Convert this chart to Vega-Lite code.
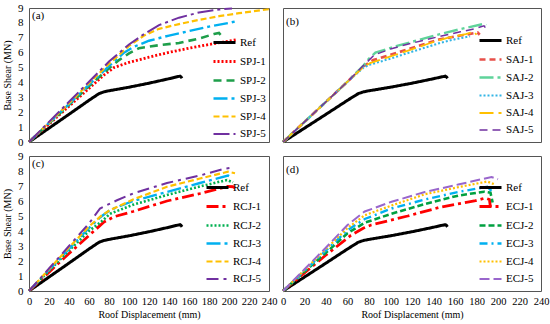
{
  "$schema": "https://vega.github.io/schema/vega-lite/v6.json",
  "background": "white",
  "padding": {"left": 2, "top": 1, "right": 2, "bottom": 2},
  "bounds": "flush",
  "columns": 2,
  "spacing": {"row": 14, "column": 14},
  "resolve": {"scale": {"color": "independent", "strokeDash": "independent", "strokeWidth": "independent", "x": "independent", "y": "independent"}, "legend": {"color": "independent", "strokeDash": "independent", "strokeWidth": "independent"}},
  "config": {
    "view": {"stroke": "#555555", "strokeWidth": 1},
    "axis": {"labelFont": "Liberation Serif", "labelFontSize": 11, "labelColor": "#000", "titleFont": "Liberation Serif", "titleFontSize": 10, "titleFontWeight": "normal", "titleColor": "#000", "ticks": false, "domain": false, "grid": false, "labelPadding": 6, "labelOverlap": false, "labelBound": false, "labelFlush": false},
    "axisX": {"labelFontSize": 10.5},
    "legend": {"orient": "bottom-right", "offset": 3, "symbolType": "stroke", "symbolSize": 484, "labelFont": "Liberation Serif", "labelFontSize": 11, "labelColor": "#000", "rowPadding": -10, "labelOffset": 3, "padding": 0},
    "title": {"font": "Liberation Serif", "fontSize": 11, "fontWeight": "normal", "anchor": "start", "frame": "group", "offset": -19, "dx": 3}
  },
  "datasets": {
    "d": [
      {"p":"r","s":"Ref","x":0,"y":0},{"p":"r","s":"Ref","x":20,"y":0.93},{"p":"r","s":"Ref","x":40,"y":1.86},{"p":"r","s":"Ref","x":60,"y":2.8},{"p":"r","s":"Ref","x":70,"y":3.25},{"p":"r","s":"Ref","x":75,"y":3.37},{"p":"r","s":"Ref","x":80,"y":3.44},{"p":"r","s":"Ref","x":100,"y":3.68},{"p":"r","s":"Ref","x":120,"y":3.95},{"p":"r","s":"Ref","x":140,"y":4.25},{"p":"r","s":"Ref","x":148,"y":4.38},{"p":"r","s":"Ref","x":151,"y":4.42},{"p":"r","s":"Ref","x":152,"y":4.38},{"p":"r","s":"Ref","x":153,"y":4.28},

      {"p":"a","s":"SPJ-1","x":0,"y":0},{"p":"a","s":"SPJ-1","x":20,"y":1.2},{"p":"a","s":"SPJ-1","x":40,"y":2.4},{"p":"a","s":"SPJ-1","x":60,"y":3.6},{"p":"a","s":"SPJ-1","x":75,"y":4.5},{"p":"a","s":"SPJ-1","x":85,"y":5.0},{"p":"a","s":"SPJ-1","x":100,"y":5.35},{"p":"a","s":"SPJ-1","x":120,"y":5.7},{"p":"a","s":"SPJ-1","x":140,"y":6.02},{"p":"a","s":"SPJ-1","x":160,"y":6.3},{"p":"a","s":"SPJ-1","x":180,"y":6.55},{"p":"a","s":"SPJ-1","x":200,"y":6.78},{"p":"a","s":"SPJ-1","x":208,"y":6.88},
      {"p":"a","s":"SPJ-2","x":0,"y":0},{"p":"a","s":"SPJ-2","x":20,"y":1.25},{"p":"a","s":"SPJ-2","x":40,"y":2.5},{"p":"a","s":"SPJ-2","x":60,"y":3.75},{"p":"a","s":"SPJ-2","x":80,"y":4.95},{"p":"a","s":"SPJ-2","x":90,"y":5.5},{"p":"a","s":"SPJ-2","x":100,"y":5.95},{"p":"a","s":"SPJ-2","x":110,"y":6.3},{"p":"a","s":"SPJ-2","x":130,"y":6.5},{"p":"a","s":"SPJ-2","x":150,"y":6.65},{"p":"a","s":"SPJ-2","x":170,"y":6.95},{"p":"a","s":"SPJ-2","x":185,"y":7.25},{"p":"a","s":"SPJ-2","x":190,"y":7.32},{"p":"a","s":"SPJ-2","x":193,"y":7.1},
      {"p":"a","s":"SPJ-3","x":0,"y":0},{"p":"a","s":"SPJ-3","x":20,"y":1.28},{"p":"a","s":"SPJ-3","x":40,"y":2.55},{"p":"a","s":"SPJ-3","x":60,"y":3.85},{"p":"a","s":"SPJ-3","x":80,"y":5.1},{"p":"a","s":"SPJ-3","x":95,"y":6.0},{"p":"a","s":"SPJ-3","x":105,"y":6.4},{"p":"a","s":"SPJ-3","x":120,"y":6.8},{"p":"a","s":"SPJ-3","x":140,"y":7.15},{"p":"a","s":"SPJ-3","x":160,"y":7.45},{"p":"a","s":"SPJ-3","x":180,"y":7.75},{"p":"a","s":"SPJ-3","x":200,"y":8.0},{"p":"a","s":"SPJ-3","x":208,"y":8.12},
      {"p":"a","s":"SPJ-4","x":0,"y":0},{"p":"a","s":"SPJ-4","x":20,"y":1.3},{"p":"a","s":"SPJ-4","x":40,"y":2.6},{"p":"a","s":"SPJ-4","x":60,"y":3.95},{"p":"a","s":"SPJ-4","x":80,"y":5.25},{"p":"a","s":"SPJ-4","x":100,"y":6.45},{"p":"a","s":"SPJ-4","x":115,"y":7.15},{"p":"a","s":"SPJ-4","x":130,"y":7.6},{"p":"a","s":"SPJ-4","x":150,"y":7.92},{"p":"a","s":"SPJ-4","x":170,"y":8.2},{"p":"a","s":"SPJ-4","x":190,"y":8.45},{"p":"a","s":"SPJ-4","x":210,"y":8.65},{"p":"a","s":"SPJ-4","x":240,"y":8.92},
      {"p":"a","s":"SPJ-5","x":0,"y":0},{"p":"a","s":"SPJ-5","x":20,"y":1.35},{"p":"a","s":"SPJ-5","x":40,"y":2.7},{"p":"a","s":"SPJ-5","x":60,"y":4.05},{"p":"a","s":"SPJ-5","x":80,"y":5.4},{"p":"a","s":"SPJ-5","x":100,"y":6.55},{"p":"a","s":"SPJ-5","x":115,"y":7.25},{"p":"a","s":"SPJ-5","x":130,"y":7.85},{"p":"a","s":"SPJ-5","x":150,"y":8.35},{"p":"a","s":"SPJ-5","x":170,"y":8.7},{"p":"a","s":"SPJ-5","x":190,"y":8.9},{"p":"a","s":"SPJ-5","x":203,"y":8.97},

      {"p":"b","s":"SAJ-1","x":0,"y":0},{"p":"b","s":"SAJ-1","x":20,"y":1.35},{"p":"b","s":"SAJ-1","x":40,"y":2.7},{"p":"b","s":"SAJ-1","x":60,"y":4.05},{"p":"b","s":"SAJ-1","x":75,"y":5.1},{"p":"b","s":"SAJ-1","x":84,"y":5.5},{"p":"b","s":"SAJ-1","x":100,"y":5.85},{"p":"b","s":"SAJ-1","x":115,"y":6.2},{"p":"b","s":"SAJ-1","x":146,"y":6.9},{"p":"b","s":"SAJ-1","x":165,"y":7.15},{"p":"b","s":"SAJ-1","x":181,"y":7.35},{"p":"b","s":"SAJ-1","x":183,"y":7.2},
      {"p":"b","s":"SAJ-2","x":0,"y":0},{"p":"b","s":"SAJ-2","x":20,"y":1.35},{"p":"b","s":"SAJ-2","x":40,"y":2.7},{"p":"b","s":"SAJ-2","x":60,"y":4.05},{"p":"b","s":"SAJ-2","x":75,"y":5.15},{"p":"b","s":"SAJ-2","x":80,"y":5.6},{"p":"b","s":"SAJ-2","x":86,"y":6.0},{"p":"b","s":"SAJ-2","x":106,"y":6.45},{"p":"b","s":"SAJ-2","x":126,"y":6.85},{"p":"b","s":"SAJ-2","x":146,"y":7.25},{"p":"b","s":"SAJ-2","x":166,"y":7.6},{"p":"b","s":"SAJ-2","x":186,"y":7.92},{"p":"b","s":"SAJ-2","x":189,"y":7.85},
      {"p":"b","s":"SAJ-3","x":0,"y":0},{"p":"b","s":"SAJ-3","x":20,"y":1.35},{"p":"b","s":"SAJ-3","x":40,"y":2.7},{"p":"b","s":"SAJ-3","x":60,"y":4.05},{"p":"b","s":"SAJ-3","x":75,"y":5.0},{"p":"b","s":"SAJ-3","x":81,"y":5.2},{"p":"b","s":"SAJ-3","x":100,"y":5.6},{"p":"b","s":"SAJ-3","x":115,"y":5.95},{"p":"b","s":"SAJ-3","x":146,"y":6.65},{"p":"b","s":"SAJ-3","x":160,"y":6.9},{"p":"b","s":"SAJ-3","x":174,"y":7.1},
      {"p":"b","s":"SAJ-4","x":0,"y":0},{"p":"b","s":"SAJ-4","x":20,"y":1.35},{"p":"b","s":"SAJ-4","x":40,"y":2.7},{"p":"b","s":"SAJ-4","x":60,"y":4.05},{"p":"b","s":"SAJ-4","x":75,"y":5.05},{"p":"b","s":"SAJ-4","x":81,"y":5.3},{"p":"b","s":"SAJ-4","x":100,"y":5.75},{"p":"b","s":"SAJ-4","x":115,"y":6.1},{"p":"b","s":"SAJ-4","x":135,"y":6.6},{"p":"b","s":"SAJ-4","x":153,"y":7.0},{"p":"b","s":"SAJ-4","x":170,"y":7.25},{"p":"b","s":"SAJ-4","x":178,"y":7.4},{"p":"b","s":"SAJ-4","x":180,"y":7.2},
      {"p":"b","s":"SAJ-5","x":0,"y":0},{"p":"b","s":"SAJ-5","x":20,"y":1.35},{"p":"b","s":"SAJ-5","x":40,"y":2.7},{"p":"b","s":"SAJ-5","x":60,"y":4.05},{"p":"b","s":"SAJ-5","x":75,"y":5.15},{"p":"b","s":"SAJ-5","x":85,"y":5.85},{"p":"b","s":"SAJ-5","x":100,"y":6.25},{"p":"b","s":"SAJ-5","x":115,"y":6.55},{"p":"b","s":"SAJ-5","x":146,"y":7.1},{"p":"b","s":"SAJ-5","x":165,"y":7.4},{"p":"b","s":"SAJ-5","x":178,"y":7.6},{"p":"b","s":"SAJ-5","x":187,"y":7.8},{"p":"b","s":"SAJ-5","x":189,"y":7.6},

      {"p":"c","s":"RCJ-1","x":0,"y":0},{"p":"c","s":"RCJ-1","x":20,"y":1.25},{"p":"c","s":"RCJ-1","x":40,"y":2.5},{"p":"c","s":"RCJ-1","x":55,"y":3.4},{"p":"c","s":"RCJ-1","x":65,"y":4.0},{"p":"c","s":"RCJ-1","x":75,"y":4.6},{"p":"c","s":"RCJ-1","x":85,"y":4.95},{"p":"c","s":"RCJ-1","x":104,"y":5.3},{"p":"c","s":"RCJ-1","x":138,"y":6.0},{"p":"c","s":"RCJ-1","x":171,"y":6.5},{"p":"c","s":"RCJ-1","x":198,"y":6.97},{"p":"c","s":"RCJ-1","x":204,"y":6.95},{"p":"c","s":"RCJ-1","x":206,"y":6.85},
      {"p":"c","s":"RCJ-2","x":0,"y":0},{"p":"c","s":"RCJ-2","x":20,"y":1.35},{"p":"c","s":"RCJ-2","x":40,"y":2.7},{"p":"c","s":"RCJ-2","x":60,"y":4.0},{"p":"c","s":"RCJ-2","x":72,"y":4.6},{"p":"c","s":"RCJ-2","x":81,"y":5.15},{"p":"c","s":"RCJ-2","x":104,"y":5.75},{"p":"c","s":"RCJ-2","x":138,"y":6.4},{"p":"c","s":"RCJ-2","x":171,"y":6.97},{"p":"c","s":"RCJ-2","x":198,"y":7.4},{"p":"c","s":"RCJ-2","x":204,"y":7.25},
      {"p":"c","s":"RCJ-3","x":0,"y":0},{"p":"c","s":"RCJ-3","x":20,"y":1.4},{"p":"c","s":"RCJ-3","x":40,"y":2.8},{"p":"c","s":"RCJ-3","x":60,"y":4.2},{"p":"c","s":"RCJ-3","x":71,"y":4.9},{"p":"c","s":"RCJ-3","x":81,"y":5.4},{"p":"c","s":"RCJ-3","x":104,"y":6.0},{"p":"c","s":"RCJ-3","x":138,"y":6.6},{"p":"c","s":"RCJ-3","x":171,"y":7.2},{"p":"c","s":"RCJ-3","x":199,"y":7.7},{"p":"c","s":"RCJ-3","x":203,"y":7.55},
      {"p":"c","s":"RCJ-4","x":0,"y":0},{"p":"c","s":"RCJ-4","x":20,"y":1.45},{"p":"c","s":"RCJ-4","x":40,"y":2.9},{"p":"c","s":"RCJ-4","x":60,"y":4.3},{"p":"c","s":"RCJ-4","x":72,"y":5.0},{"p":"c","s":"RCJ-4","x":80,"y":5.35},{"p":"c","s":"RCJ-4","x":104,"y":6.1},{"p":"c","s":"RCJ-4","x":138,"y":6.95},{"p":"c","s":"RCJ-4","x":171,"y":7.5},{"p":"c","s":"RCJ-4","x":199,"y":7.95},{"p":"c","s":"RCJ-4","x":206,"y":7.85},
      {"p":"c","s":"RCJ-5","x":0,"y":0},{"p":"c","s":"RCJ-5","x":20,"y":1.5},{"p":"c","s":"RCJ-5","x":40,"y":3.0},{"p":"c","s":"RCJ-5","x":60,"y":4.5},{"p":"c","s":"RCJ-5","x":71,"y":5.5},{"p":"c","s":"RCJ-5","x":88,"y":6.05},{"p":"c","s":"RCJ-5","x":104,"y":6.5},{"p":"c","s":"RCJ-5","x":138,"y":7.2},{"p":"c","s":"RCJ-5","x":171,"y":7.7},{"p":"c","s":"RCJ-5","x":195,"y":8.15},{"p":"c","s":"RCJ-5","x":201,"y":8.2},

      {"p":"d","s":"ECJ-1","x":0,"y":0},{"p":"d","s":"ECJ-1","x":20,"y":1.2},{"p":"d","s":"ECJ-1","x":40,"y":2.4},{"p":"d","s":"ECJ-1","x":63,"y":3.7},{"p":"d","s":"ECJ-1","x":75,"y":4.2},{"p":"d","s":"ECJ-1","x":82,"y":4.4},{"p":"d","s":"ECJ-1","x":116,"y":5.0},{"p":"d","s":"ECJ-1","x":147,"y":5.6},{"p":"d","s":"ECJ-1","x":178,"y":6.0},{"p":"d","s":"ECJ-1","x":188,"y":6.2},{"p":"d","s":"ECJ-1","x":192,"y":6.1},{"p":"d","s":"ECJ-1","x":193,"y":5.6},
      {"p":"d","s":"ECJ-2","x":0,"y":0},{"p":"d","s":"ECJ-2","x":20,"y":1.3},{"p":"d","s":"ECJ-2","x":40,"y":2.55},{"p":"d","s":"ECJ-2","x":60,"y":3.85},{"p":"d","s":"ECJ-2","x":76,"y":4.55},{"p":"d","s":"ECJ-2","x":101,"y":5.15},{"p":"d","s":"ECJ-2","x":132,"y":5.8},{"p":"d","s":"ECJ-2","x":163,"y":6.36},{"p":"d","s":"ECJ-2","x":187,"y":6.62},{"p":"d","s":"ECJ-2","x":193,"y":6.55},{"p":"d","s":"ECJ-2","x":195,"y":5.9},
      {"p":"d","s":"ECJ-3","x":0,"y":0},{"p":"d","s":"ECJ-3","x":20,"y":1.35},{"p":"d","s":"ECJ-3","x":40,"y":2.7},{"p":"d","s":"ECJ-3","x":60,"y":4.05},{"p":"d","s":"ECJ-3","x":76,"y":4.8},{"p":"d","s":"ECJ-3","x":101,"y":5.5},{"p":"d","s":"ECJ-3","x":132,"y":6.1},{"p":"d","s":"ECJ-3","x":163,"y":6.6},{"p":"d","s":"ECJ-3","x":190,"y":6.95},{"p":"d","s":"ECJ-3","x":195,"y":6.6},
      {"p":"d","s":"ECJ-4","x":0,"y":0},{"p":"d","s":"ECJ-4","x":20,"y":1.4},{"p":"d","s":"ECJ-4","x":40,"y":2.8},{"p":"d","s":"ECJ-4","x":60,"y":4.2},{"p":"d","s":"ECJ-4","x":76,"y":5.05},{"p":"d","s":"ECJ-4","x":101,"y":5.7},{"p":"d","s":"ECJ-4","x":132,"y":6.45},{"p":"d","s":"ECJ-4","x":163,"y":6.92},{"p":"d","s":"ECJ-4","x":190,"y":7.3},{"p":"d","s":"ECJ-4","x":197,"y":7.1},
      {"p":"d","s":"ECJ-5","x":0,"y":0},{"p":"d","s":"ECJ-5","x":20,"y":1.45},{"p":"d","s":"ECJ-5","x":40,"y":2.9},{"p":"d","s":"ECJ-5","x":60,"y":4.4},{"p":"d","s":"ECJ-5","x":76,"y":5.3},{"p":"d","s":"ECJ-5","x":101,"y":5.95},{"p":"d","s":"ECJ-5","x":132,"y":6.6},{"p":"d","s":"ECJ-5","x":163,"y":7.1},{"p":"d","s":"ECJ-5","x":194,"y":7.6},{"p":"d","s":"ECJ-5","x":200,"y":7.45}
    ]
  },
  "concat": [
    {
      "width": 240, "height": 134,
      "title": {"text": "(a)"},
      "data": {"name": "d"},
      "transform": [{"filter": "datum.p === 'a' || datum.p === 'r'"}],
      "mark": {"type": "line"},
      "encoding": {
        "x": {"field": "x", "type": "quantitative", "scale": {"domain": [0, 240]}, "axis": null},
        "y": {"field": "y", "type": "quantitative", "scale": {"domain": [0, 9]}, "axis": {"values": [0,1,2,3,4,5,6,7,8,9], "title": "Base Shear (MN)", "titlePadding": 5}},
        "color": {"field": "s", "type": "nominal", "title": null, "legend": {"offset": 3}, "scale": {"domain": ["Ref","SPJ-1","SPJ-2","SPJ-3","SPJ-4","SPJ-5"], "range": ["#000000","#ff0000","#1e9e4a","#00b0f0","#ffc000","#7030a0"]}},
        "strokeDash": {"field": "s", "type": "nominal", "title": null, "legend": {"offset": 3}, "scale": {"domain": ["Ref","SPJ-1","SPJ-2","SPJ-3","SPJ-4","SPJ-5"], "range": [[1,0],[2,2],[8,5],[14,4,3,4],[6,3],[16,4,3,4]]}},
        "strokeWidth": {"field": "s", "type": "nominal", "title": null, "legend": {"offset": 3}, "scale": {"domain": ["Ref","SPJ-1","SPJ-2","SPJ-3","SPJ-4","SPJ-5"], "range": [3,2,2,2,2,2]}}
      }
    },
    {
      "width": 258, "height": 134,
      "title": {"text": "(b)"},
      "data": {"name": "d"},
      "transform": [{"filter": "datum.p === 'b' || datum.p === 'r'"}],
      "mark": {"type": "line"},
      "encoding": {
        "x": {"field": "x", "type": "quantitative", "scale": {"domain": [0, 240]}, "axis": null},
        "y": {"field": "y", "type": "quantitative", "scale": {"domain": [0, 9]}, "axis": null},
        "color": {"field": "s", "type": "nominal", "title": null, "legend": {"offset": 7}, "scale": {"domain": ["Ref","SAJ-1","SAJ-2","SAJ-3","SAJ-4","SAJ-5"], "range": ["#000000","#e8504a","#5fd39a","#33b5e5","#ffc000","#7030a0"]}},
        "strokeDash": {"field": "s", "type": "nominal", "title": null, "legend": {"offset": 7}, "scale": {"domain": ["Ref","SAJ-1","SAJ-2","SAJ-3","SAJ-4","SAJ-5"], "range": [[1,0],[6,4],[14,4,3,4],[2,2],[14,5],[8,5]]}},
        "strokeWidth": {"field": "s", "type": "nominal", "title": null, "legend": {"offset": 7}, "scale": {"domain": ["Ref","SAJ-1","SAJ-2","SAJ-3","SAJ-4","SAJ-5"], "range": [3,1.5,2.5,2,2,2]}}
      }
    },
    {
      "width": 240, "height": 135,
      "title": {"text": "(c)"},
      "data": {"name": "d"},
      "transform": [{"filter": "datum.p === 'c' || datum.p === 'r'"}],
      "mark": {"type": "line"},
      "encoding": {
        "x": {"field": "x", "type": "quantitative", "scale": {"domain": [0, 240]}, "axis": {"values": [0,20,40,60,80,100,120,140,160,180,200,220,240], "title": "Roof Displacement (mm)", "labelPadding": 5, "titlePadding": 3}},
        "y": {"field": "y", "type": "quantitative", "scale": {"domain": [0, 9]}, "axis": {"values": [0,1,2,3,4,5,6,7,8,9], "title": "Base Shear (MN)", "titlePadding": 5}},
        "color": {"field": "s", "type": "nominal", "title": null, "legend": {"offset": 7}, "scale": {"domain": ["Ref","RCJ-1","RCJ-2","RCJ-3","RCJ-4","RCJ-5"], "range": ["#000000","#ff0000","#00b050","#00b0f0","#ffc000","#7030a0"]}},
        "strokeDash": {"field": "s", "type": "nominal", "title": null, "legend": {"offset": 7}, "scale": {"domain": ["Ref","RCJ-1","RCJ-2","RCJ-3","RCJ-4","RCJ-5"], "range": [[1,0],[12,4,3,4],[2,2],[14,4,3,4],[6,3],[12,5,3,5]]}},
        "strokeWidth": {"field": "s", "type": "nominal", "title": null, "legend": {"offset": 7}, "scale": {"domain": ["Ref","RCJ-1","RCJ-2","RCJ-3","RCJ-4","RCJ-5"], "range": [3,2,2,2,2,2]}}
      }
    },
    {
      "width": 258, "height": 135,
      "title": {"text": "(d)"},
      "data": {"name": "d"},
      "transform": [{"filter": "datum.p === 'd' || datum.p === 'r'"}],
      "mark": {"type": "line"},
      "encoding": {
        "x": {"field": "x", "type": "quantitative", "scale": {"domain": [0, 240]}, "axis": {"values": [0,20,40,60,80,100,120,140,160,180,200,220,240], "title": "Roof Displacement (mm)", "labelPadding": 5, "titlePadding": 3}},
        "y": {"field": "y", "type": "quantitative", "scale": {"domain": [0, 9]}, "axis": null},
        "color": {"field": "s", "type": "nominal", "title": null, "legend": {"offset": 7}, "scale": {"domain": ["Ref","ECJ-1","ECJ-2","ECJ-3","ECJ-4","ECJ-5"], "range": ["#000000","#ff0000","#00a040","#00b0f0","#ffc000","#9966cc"]}},
        "strokeDash": {"field": "s", "type": "nominal", "title": null, "legend": {"offset": 7}, "scale": {"domain": ["Ref","ECJ-1","ECJ-2","ECJ-3","ECJ-4","ECJ-5"], "range": [[1,0],[12,4,3,4],[6,3],[8,4,2,4],[2,2],[10,4]]}},
        "strokeWidth": {"field": "s", "type": "nominal", "title": null, "legend": {"offset": 7}, "scale": {"domain": ["Ref","ECJ-1","ECJ-2","ECJ-3","ECJ-4","ECJ-5"], "range": [3,2,2,2,2,1.5]}}
      }
    }
  ]
}
